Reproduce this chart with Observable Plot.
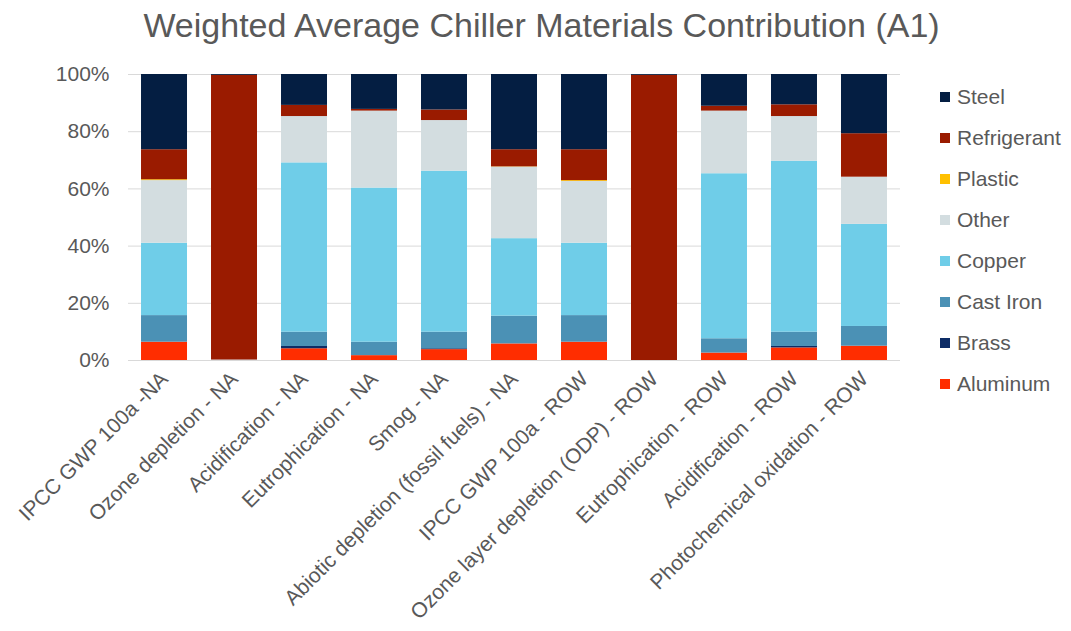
<!DOCTYPE html>
<html>
<head>
<meta charset="utf-8">
<script src="https://cdn.jsdelivr.net/npm/d3@7"></script>
<script src="https://cdn.jsdelivr.net/npm/@observablehq/plot@0.6"></script>
<style>
  body { margin: 0; background: #fff; font-family: "Liberation Sans", Arial, sans-serif; }
  #page { position: relative; width: 1071px; height: 631px; overflow: hidden; }
  #title { height: 56px; line-height: 50px; box-sizing: border-box; white-space: nowrap;
           text-align: center; font-size: 34px; color: #595959; padding-left: 12px; }
  #legend { position: absolute; left: 940px; top: 76px; }
  .item { height: 41px; display: flex; align-items: center; font-size: 21px; color: #595959; }
  .swatch { width: 10px; height: 10px; margin-right: 7px; flex: none; }
</style>
</head>
<body>
<div id="page">
  <div id="title">Weighted Average Chiller Materials Contribution (A1)</div>
  <div id="chart"></div>
  <div id="legend"></div>
</div>
<script>
// Impact categories along the x axis
const categories = [
  "IPCC GWP 100a -NA",
  "Ozone depletion - NA",
  "Acidification - NA",
  "Eutrophication - NA",
  "Smog - NA",
  "Abiotic depletion (fossil fuels) - NA",
  "IPCC GWP 100a - ROW",
  "Ozone layer depletion (ODP) - ROW",
  "Eutrophication - ROW",
  "Acidification - ROW",
  "Photochemical oxidation - ROW"
];

// Materials, bottom of the stack first
const materials = ["Aluminum", "Brass", "Cast Iron", "Copper", "Other", "Plastic", "Refrigerant", "Steel"];
const materialColors = ["#ff2d00", "#0d2c66", "#4b91b5", "#6fcde8", "#d3dde0", "#ffc000", "#9a1b00", "#041e42"];

// Percentage contribution of each material per category
const aluminum    = [6.4, 0.1, 4.1, 1.7, 3.8, 5.8, 6.4, 0.0, 2.6, 4.4, 5.0];
const brass       = [0.0, 0.0, 0.8, 0.0, 0.3, 0.0, 0.0, 0.0, 0.0, 0.5, 0.0];
const castIron    = [9.3, 0.0, 5.0, 4.7, 5.8, 9.7, 9.3, 0.0, 5.0, 5.0, 6.9];
const copper      = [25.3, 0.1, 59.2, 53.9, 56.3, 27.1, 25.3, 0.0, 57.7, 59.8, 35.7];
const other       = [21.9, 0.0, 16.2, 26.9, 17.7, 25.0, 21.6, 0.0, 21.9, 15.6, 16.5];
const plastic     = [0.3, 0.0, 0.0, 0.0, 0.0, 0.1, 0.3, 0.0, 0.0, 0.0, 0.0];
const refrigerant = [10.5, 99.5, 3.9, 0.6, 3.7, 6.0, 10.8, 99.7, 1.7, 4.1, 15.2];
const steel       = [26.3, 0.3, 10.8, 12.2, 12.4, 26.3, 26.3, 0.3, 11.1, 10.6, 20.7];

const yTicks = [0, 20, 40, 60, 80, 100];

const series = [aluminum, brass, castIron, copper, other, plastic, refrigerant, steel];
const rows = [];
materials.forEach((m, j) => {
  categories.forEach((c, i) => rows.push({category: c, material: m, value: series[j][i]}));
});

const chart = Plot.plot({
  width: 1071,
  height: 575,
  marginTop: 18,
  marginBottom: 271,
  marginLeft: 128,
  marginRight: 171,
  style: {fontFamily: "Liberation Sans, Arial, sans-serif", color: "#595959", background: "#fff"},
  x: {domain: categories, paddingInner: 0.343, paddingOuter: 0.186, round: false, label: null},
  y: {domain: [0, 100], label: null},
  color: {domain: materials, range: materialColors},
  marks: [
    Plot.gridY(yTicks, {stroke: "#d9d9d9", strokeOpacity: 1, strokeWidth: 1}),
    Plot.barY(rows, {x: "category", y: "value", fill: "material", order: materials}),
    Plot.axisY(yTicks, {tickSize: 0, tickPadding: 19, fontSize: 21, tickFormat: d => d + "%", label: null}),
    Plot.axisX({tickSize: 0, tickPadding: 15, tickRotate: -45, fontSize: 21, label: null})
  ]
});
document.getElementById("chart").appendChild(chart);

// Legend, top entry is the top of the stack
const legend = document.getElementById("legend");
materials.slice().reverse().forEach(m => {
  const item = document.createElement("div");
  item.className = "item";
  const sw = document.createElement("span");
  sw.className = "swatch";
  sw.style.background = materialColors[materials.indexOf(m)];
  item.appendChild(sw);
  item.appendChild(document.createTextNode(m));
  legend.appendChild(item);
});
</script>
</body>
</html>
